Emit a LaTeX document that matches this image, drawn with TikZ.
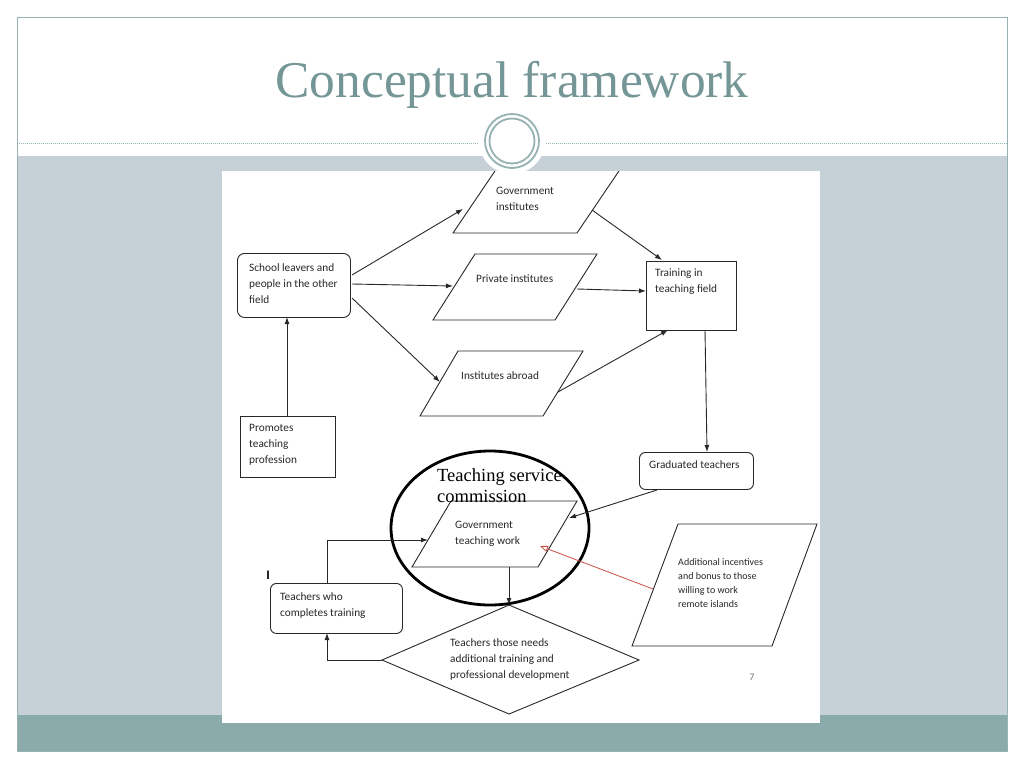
\documentclass[tikz,border=0pt]{standalone}
\usepackage{fontspec}
\setmainfont{Liberation Serif}
\newfontfamily\calfont{Carlito}
\usetikzlibrary{arrows.meta,shapes.geometric}
\definecolor{bandc}{RGB}{197,209,215}
\definecolor{tealc}{RGB}{138,171,170}
\definecolor{framec}{RGB}{150,178,178}
\definecolor{titlec}{RGB}{117,150,150}
\definecolor{redc}{RGB}{200,80,70}
\definecolor{inkc}{RGB}{40,40,40}
\begin{document}
\begin{tikzpicture}[x=1pt,y=-1pt,
  shp/.style={draw=inkc,line width=0.9pt},
  boxr/.style={shp,rectangle,rounded corners=7pt,anchor=north west,inner sep=0pt},
  boxs/.style={shp,rectangle,anchor=north west,inner sep=0pt},
  txt/.style={font=\calfont\fontsize{11.3}{16}\selectfont,align=left,inner sep=0pt,anchor=base west,text=inkc},
  conn/.style={draw=inkc,line width=0.9pt,-{Latex[length=7pt,width=5pt]}},
  redconn/.style={draw=redc,line width=0.8pt,-{Triangle[open,length=8pt,width=6pt]}}]
\useasboundingbox (0,0) rectangle (1024,768);
% slide background
\fill[white] (0,0) rectangle (1024,768);
\fill[bandc] (17,156) rectangle (1007,715);
\fill[tealc] (17,715) rectangle (1007,751);
\draw[framec,line width=0.8pt] (17,17) rectangle (1007,751);
\draw[framec,line width=0.8pt,dash pattern=on 1pt off 1pt] (17,143) -- (480,143);
\draw[framec,line width=0.8pt,dash pattern=on 1pt off 1pt] (544,143) -- (1007,143);
\fill[white] (512,141) circle (33pt);
\draw[framec,line width=1.8pt] (512,141) circle (27pt);
\draw[framec,line width=1.8pt] (512,141) circle (22.5pt);
\node[anchor=base,text=titlec,font=\fontsize{51.5}{51.5}\selectfont,inner sep=0pt] (title) at (512,97) {Conceptual framework};
% white panel
\fill[white] (222,171) rectangle (820,723);
% parallelograms
\begin{scope}
\clip (222,171) rectangle (820,723);
\draw[shp] (453,233) -- (577,233) -- (623,165) -- (499,165) -- cycle;
\end{scope}
\draw[shp] (433,320) -- (555,320) -- (597,254) -- (475,254) -- cycle;
\draw[shp] (420,416) -- (543,416) -- (583,351) -- (458,351) -- cycle;
\draw[shp] (412,567) -- (538,567) -- (577,501) -- (451,501) -- cycle;
\draw[shp] (632,646) -- (772,646) -- (817,524) -- (678,524) -- cycle;
\draw[shp] (509,605) -- (639,660) -- (509,714) -- (382,660) -- cycle;
% boxes
\node[boxr,minimum width=113pt,minimum height=64pt] (sl) at (237,253) {};
\node[boxs,minimum width=95pt,minimum height=61pt] (pr) at (240,416) {};
\node[boxs,minimum width=90pt,minimum height=69pt] (tr) at (646,261) {};
\node[boxr,rounded corners=6pt,minimum width=114pt,minimum height=37pt] (gt) at (639,452) {};
\node[boxr,rounded corners=6pt,minimum width=132pt,minimum height=50pt] (tw) at (270,583) {};
% ellipse
\node[draw=black,ellipse,line width=2.8pt,minimum width=198pt,minimum height=154pt,inner sep=0pt] (tsc) at (490,528) {};
% texts (anchor = baseline of the last line)
\node[txt] (gi) at (496,210) {Government\\institutes};
\node[txt] (pi) at (476,282) {Private institutes};
\node[txt] (ia) at (461,379) {Institutes abroad};
\node[txt] (slt) at (249,303) {School leavers and\\people in the other\\field};
\node[txt] (prt) at (249,463) {Promotes\\teaching\\profession};
\node[txt] (trt) at (655,292) {Training in\\teaching field};
\node[txt] (gtt) at (649,468) {Graduated teachers};
\node[txt] (gw) at (455,544) {Government\\teaching work};
\node[txt] (twt) at (280,616) {Teachers who\\completes training};
\node[txt] (dm) at (450,678) {Teachers those needs\\additional training and\\professional development};
\node[txt,font=\calfont\fontsize{10}{14}\selectfont] (ai) at (678,607) {Additional incentives\\and bonus to those\\willing to work\\remote islands};
\node[anchor=base west,align=left,inner sep=0pt,font=\fontsize{18.5}{21}\selectfont] (tsct) at (437,502) {Teaching service\\commission};
\node[anchor=base,inner sep=0pt,font=\calfont\bfseries\fontsize{13}{13}\selectfont] (mark) at (268,579) {I};
\node[anchor=base,inner sep=0pt,text=black!55,font=\calfont\fontsize{10}{10}\selectfont] (pg) at (752,680) {7};
% connector end points
\coordinate (sl-a) at (352,275);
\coordinate (sl-b) at (352,284);
\coordinate (sl-c) at (352,298);
\coordinate (gi-w) at (463,209);
\coordinate (pi-w) at (453,286);
\coordinate (ia-w) at (440,382);
\coordinate (gi-e) at (592,210);
\coordinate (pi-e) at (577,289);
\coordinate (ia-e) at (558,392);
\coordinate (tr-nw) at (662,260);
\coordinate (tr-sw) at (668,330);
\coordinate (tr-s) at (705,330);
\coordinate (gt-n) at (707,452);
\coordinate (gt-sw) at (657,490);
\coordinate (gw-e) at (569,518);
\coordinate (gw-s) at (509,567);
\coordinate (dm-n) at (509,605);
\coordinate (dm-w) at (382,660);
\coordinate (gw-w) at (428,540);
\coordinate (tw-n) at (327,583);
\coordinate (tw-s) at (327,633);
\coordinate (ai-w) at (653,589);
\coordinate (gw-c) at (540,546);
% connectors
\draw[conn] (pr.north -| 287,0) -- (287,317);
\draw[conn] (sl-a) -- (gi-w);
\draw[conn] (sl-b) -- (pi-w);
\draw[conn] (sl-c) -- (ia-w);
\draw[conn] (gi-e) -- (tr-nw);
\draw[conn] (pi-e) -- (tr.west |- 0,291);
\draw[conn] (ia-e) -- (tr-sw);
\draw[conn] (tr-s) -- (gt-n);
\draw[conn] (gt-sw) -- (gw-e);
\draw[conn] (gw-s) -- (dm-n);
\draw[conn] (tw-n) |- (gw-w);
\draw[conn] (dm-w) -- (tw-s |- dm-w) -- (tw-s);
\draw[redconn] (ai-w) -- (gw-c);
\end{tikzpicture}
\end{document}
